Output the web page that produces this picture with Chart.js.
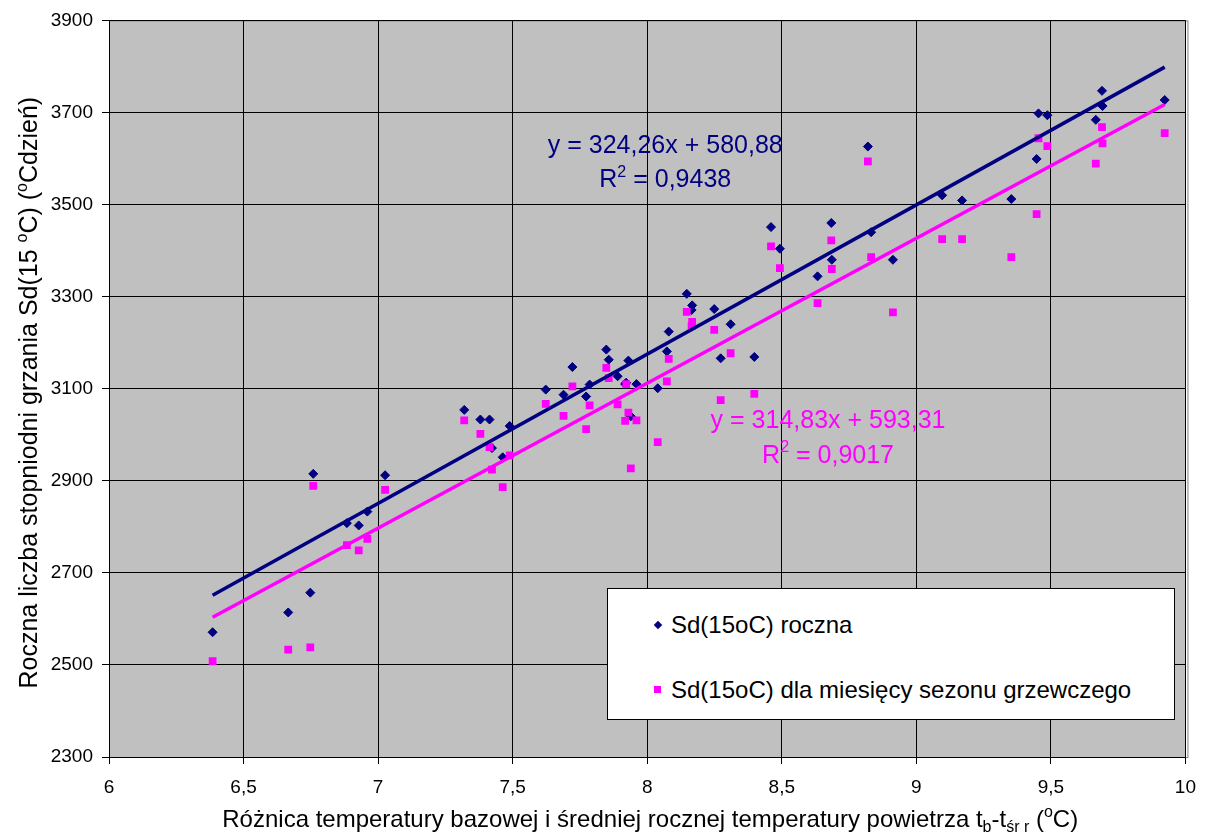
<!DOCTYPE html>
<html lang="pl">
<head>
<meta charset="utf-8">
<title>Sd(15oC) - wykres</title>
<script src="https://cdn.jsdelivr.net/npm/chart.js@4.4.1/dist/chart.umd.min.js"></script>
<style>
    body{
        margin:0;
        background:#ffffff;
        font-family:"Liberation Sans", Arial, sans-serif;
    }
    #wrap{
        position:relative;
        width:1208px;
        height:834px;
    }
    #legendBox{
        position:absolute;
        left:607px;
        top:588px;
        width:568px;
        height:132px;
        box-sizing:border-box;
        background:#ffffff;
        border:1px solid #000000;
    }
    .legendRow{
        position:absolute;
        left:0;
        height:30px;
        line-height:30px;
        font-size:24px;
        color:#000000;
        white-space:nowrap;
    }
    .legendRow span.txt{
        position:absolute;
        left:63px;
    }
    .legendRow i{
        position:absolute;
        left:46px;
        top:11px;
        width:7px;
        height:7px;
    }
    .legendRow i.diamond{
        transform:rotate(45deg);
        width:6px;
        height:6px;
        left:47px;
        top:12px;
    }
</style>
</head>
<body>

<div id="wrap">
    <canvas id="sdChart"></canvas>
    <div id="legendBox"></div>
</div>

<script>

//======================================
// Dane
//======================================

// różnica temperatury t_b - t_śr r
const tempDiff = [
    6.385, 6.666, 6.748, 6.759, 6.884, 6.928, 6.960, 7.026,
    7.320, 7.380, 7.414, 7.423, 7.463, 7.489, 7.623, 7.689,
    7.722, 7.773, 7.786, 7.848, 7.857, 7.890, 7.918, 7.922,
    7.930, 7.939, 7.960, 8.039, 8.073, 8.080, 8.147, 8.167,
    8.165, 8.249, 8.273, 8.310, 8.398, 8.460, 8.493, 8.633,
    8.684, 8.686, 8.820, 8.832, 8.913, 9.096, 9.170, 9.353,
    9.447, 9.454, 9.487, 9.667, 9.690, 9.692, 9.923
];

// Sd(15oC) roczna
const sdRoczna = [
    2571, 2614, 2657, 2915, 2808, 2803, 2833, 2912,
    3054, 3033, 3033, 2971, 2951, 3019, 3098, 3087,
    3147, 3083, 3109, 3185, 3163, 3127, 3110, 3113,
    3161, 3040, 3110, 3101, 3181, 3224, 3306, 3281,
    3271, 3273, 3166, 3240, 3169, 3451, 3404, 3344,
    3460, 3380, 3626, 3440, 3380, 3520, 3509, 3512,
    3599, 3698, 3694, 3684, 3747, 3714, 3727
];

// Sd(15oC) dla miesięcy sezonu grzewczego
const sdSezon = [
    2508, 2533, 2538, 2889, 2760, 2749, 2774, 2880,
    3031, 3002, 2973, 2924, 2886, 2955, 3067, 3041,
    3105, 3012, 3064, 3145, 3123, 3066, 3030, 3110,
    3048, 2927, 3031, 2984, 3116, 3165, 3267, 3245,
    3236, 3228, 3075, 3177, 3089, 3409, 3362, 3286,
    3422, 3360, 3594, 3386, 3266, 3425, 3425, 3386,
    3479, 3644, 3627, 3589, 3668, 3633, 3655
];

const seriesNames = [
    "Sd(15oC) roczna",
    "Sd(15oC) dla miesięcy sezonu grzewczego"
];

// linie trendu (z równań na wykresie)
const trendSlope = [324.26, 314.83];
const trendIntercept = [580.88, 593.31];
const trendR2 = [0.9438, 0.9017];

const seriesColors = ["#000080", "#FF00FF"];

const xTicks = [6, 6.5, 7, 7.5, 8, 8.5, 9, 9.5, 10];
const yTicks = [2300, 2500, 2700, 2900, 3100, 3300, 3500, 3700, 3900];


//======================================
// Pomocnicze
//======================================

const fontFamily = '"Liberation Sans", Arial, sans-serif';

function plNumber(v){

    return String(v).replace(".", ",");

}

function toPoints(xs, ys){

    return xs.map((x, i) => ({x:x, y:ys[i]}));

}

function trendPoints(k){

    const xMin = Math.min(...tempDiff);
    const xMax = Math.max(...tempDiff);

    return [
        {x:xMin, y:trendSlope[k] * xMin + trendIntercept[k]},
        {x:xMax, y:trendSlope[k] * xMax + trendIntercept[k]}
    ];

}

// tekst z indeksami: [tekst, 0 = normalny, 1 = górny, -1 = dolny]
function drawRich(ctx, parts, size, x, y, color){

    const small = Math.round(size * 0.65);

    ctx.save();
    ctx.fillStyle = color;
    ctx.textAlign = "left";
    ctx.textBaseline = "alphabetic";

    let total = 0;
    const widths = parts.map(p => {
        ctx.font = (p[1] === 0 ? size : small) + "px " + fontFamily;
        const w = ctx.measureText(p[0]).width;
        total += w;
        return w;
    });

    let cx = x - total / 2;

    parts.forEach((p, i) => {
        ctx.font = (p[1] === 0 ? size : small) + "px " + fontFamily;
        let dy = 0;
        if(p[1] === 1) dy = -size * 0.42;
        if(p[1] === -1) dy = size * 0.22;
        ctx.fillText(p[0], cx, y + dy);
        cx += widths[i];
    });

    ctx.restore();

}


//======================================
// Pluginy: tło, tytuły osi, równania
//======================================

const plotBackground = {

    id:"plotBackground",

    beforeDraw(chart){

        const a = chart.chartArea;
        const ctx = chart.ctx;

        ctx.save();
        ctx.fillStyle = "#C0C0C0";
        ctx.fillRect(a.left, a.top, a.right - a.left, a.bottom - a.top);
        ctx.strokeStyle = "#808080";
        ctx.lineWidth = 1;
        ctx.strokeRect(a.left + 0.5, a.top + 0.5, a.right - a.left + 2, a.bottom - a.top);
        ctx.restore();

    }

};

const axisTitles = {

    id:"axisTitles",

    afterDraw(chart){

        const a = chart.chartArea;
        const ctx = chart.ctx;

        drawRich(ctx, [
            ["Różnica temperatury bazowej i średniej rocznej temperatury powietrza t", 0],
            ["b", -1],
            ["-t", 0],
            ["śr r", -1],
            [" (", 0],
            ["o", 1],
            ["C)", 0]
        ], 24, (a.left + a.right) / 2 + 3, 827, "#000000");

        ctx.save();
        ctx.translate(37, (a.top + a.bottom) / 2 + 4);
        ctx.rotate(-Math.PI / 2);
        drawRich(ctx, [
            ["Roczna liczba stopniodni grzania Sd(15 ", 0],
            ["o", 1],
            ["C) (", 0],
            ["o", 1],
            ["Cdzień)", 0]
        ], 25, 0, 0, "#000000");
        ctx.restore();

    }

};

const trendLabels = {

    id:"trendLabels",

    afterDatasetsDraw(chart, args, opts){

        const xs = chart.scales.x;
        const ys = chart.scales.y;
        const ctx = chart.ctx;

        opts.items.forEach((it, k) => {

            const cx = xs.getPixelForValue(it.x);
            const eq = "y = " + trendSlope[k].toFixed(2).replace(".", ",") +
                       "x + " + trendIntercept[k].toFixed(2).replace(".", ",");

            drawRich(ctx, [[eq, 0]], 25, cx, ys.getPixelForValue(it.yEq) + 9, seriesColors[k]);

            drawRich(ctx, [
                ["R", 0],
                ["2", 1],
                [" = " + plNumber(trendR2[k]), 0]
            ], 25, cx, ys.getPixelForValue(it.yR2) + 9, seriesColors[k]);

        });

    }

};


//======================================
// Wykres
//======================================

const ctx = document.getElementById("sdChart");

const sdChart = new Chart(ctx, {

    type:"scatter",

    data:{

        datasets:[

            {
                label:seriesNames[0],
                data:toPoints(tempDiff, sdRoczna),
                pointStyle:"rectRot",
                pointRadius:4.5,
                backgroundColor:seriesColors[0],
                borderColor:seriesColors[0],
                borderWidth:1,
                order:4
            },

            {
                label:seriesNames[1],
                data:toPoints(tempDiff, sdSezon),
                pointStyle:"rect",
                pointRadius:5.5,
                backgroundColor:seriesColors[1],
                borderColor:seriesColors[1],
                borderWidth:0,
                order:3
            },

            {
                label:"trend 2",
                type:"line",
                data:trendPoints(1),
                borderColor:seriesColors[1],
                borderWidth:3.5,
                pointRadius:0,
                fill:false,
                order:2
            },

            {
                label:"trend 1",
                type:"line",
                data:trendPoints(0),
                borderColor:seriesColors[0],
                borderWidth:3.5,
                pointRadius:0,
                fill:false,
                order:1
            }

        ]

    },

    options:{

        responsive:true,

        maintainAspectRatio:false,

        animation:false,

        layout:{
            padding:{top:19, right:18, bottom:0, left:0}
        },

        scales:{

            x:{
                type:"linear",
                min:xTicks[0],
                max:xTicks[xTicks.length - 1],
                afterBuildTicks(scale){
                    scale.ticks = xTicks.map(v => ({value:v}));
                },
                afterFit(scale){
                    scale.height = 77;
                },
                ticks:{
                    color:"#000000",
                    padding:12,
                    font:{family:fontFamily, size:19},
                    callback:(v) => plNumber(v)
                },
                grid:{
                    color:"#000000",
                    lineWidth:1,
                    tickLength:7,
                    tickColor:"#000000"
                },
                border:{
                    color:"#000000",
                    width:1
                }
            },

            y:{
                type:"linear",
                min:yTicks[0],
                max:yTicks[yTicks.length - 1],
                afterBuildTicks(scale){
                    scale.ticks = yTicks.map(v => ({value:v}));
                },
                afterFit(scale){
                    scale.width = 109;
                },
                ticks:{
                    color:"#000000",
                    padding:9,
                    font:{family:fontFamily, size:19},
                    callback:(v) => String(v)
                },
                grid:{
                    color:"#000000",
                    lineWidth:1,
                    tickLength:7,
                    tickColor:"#000000"
                },
                border:{
                    color:"#000000",
                    width:1
                }
            }

        },

        plugins:{
            legend:{display:false},
            tooltip:{enabled:false},
            trendLabels:{
                items:[
                    {x:8.067, yEq:3631, yR2:3557},
                    {x:8.672, yEq:3035, yR2:2959}
                ]
            }
        }

    },

    plugins:[plotBackground, axisTitles, trendLabels]

});


//======================================
// Legenda (HTML)
//======================================

function buildLegend(){

    const box = document.getElementById("legendBox");
    const shapes = ["diamond", "square"];
    const rowTop = [21, 86];

    seriesNames.forEach((name, i) => {

        const row = document.createElement("div");
        row.className = "legendRow";
        row.style.top = rowTop[i] + "px";

        const mark = document.createElement("i");
        mark.className = shapes[i];
        mark.style.background = seriesColors[i];

        const txt = document.createElement("span");
        txt.className = "txt";
        txt.textContent = name;

        row.appendChild(mark);
        row.appendChild(txt);
        box.appendChild(row);

    });

}

buildLegend();

</script>
</body>
</html>
